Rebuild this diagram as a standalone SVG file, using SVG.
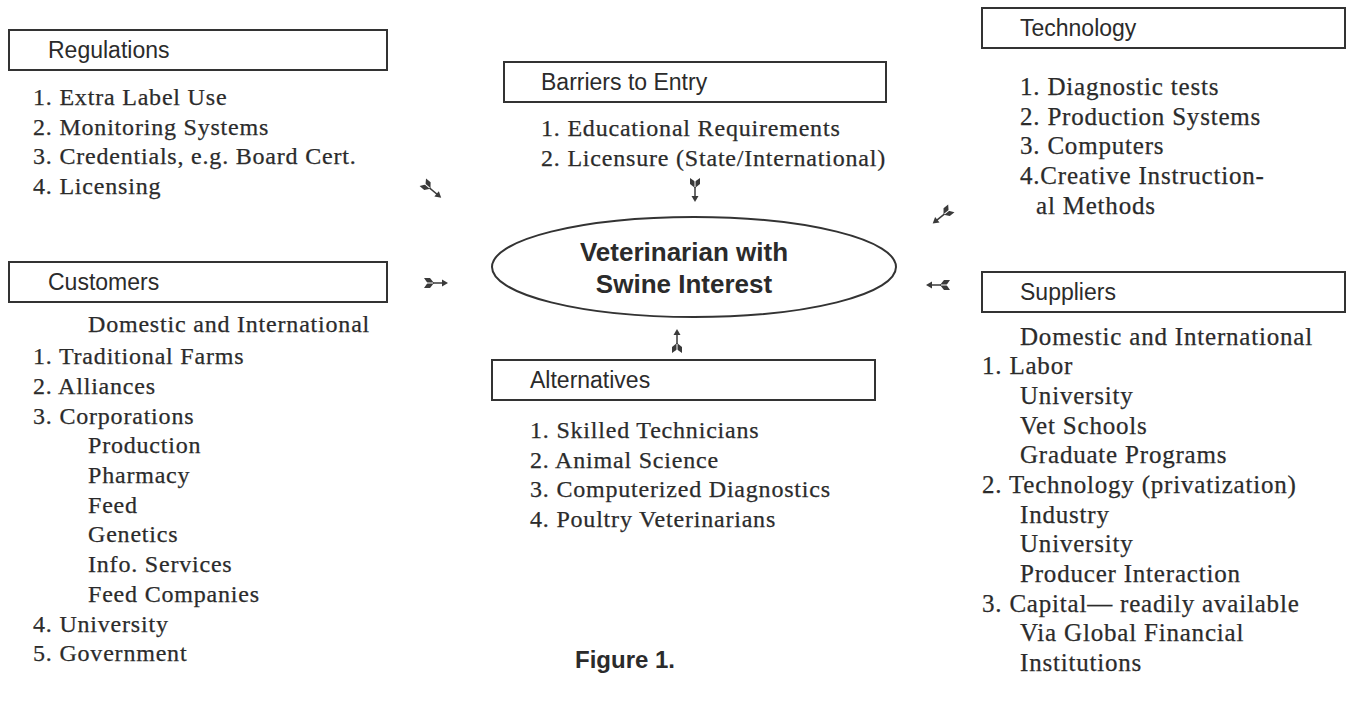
<svg xmlns="http://www.w3.org/2000/svg" width="1364" height="716" viewBox="0 0 1364 716">
<style>
.box{fill:none;stroke:#333;stroke-width:2}
.lbl{font-family:"Liberation Sans",Arial,sans-serif;font-size:23px;fill:#2b2b2b}
.itm{font-family:"Liberation Serif","Times New Roman",serif;font-size:24px;fill:#2b2b2b;letter-spacing:0.8px;stroke:#2b2b2b;stroke-width:0.25}
.rt{font-size:25px}
.ctr{font-family:"Liberation Sans",Arial,sans-serif;font-size:26px;font-weight:bold;fill:#2b2b2b;text-anchor:middle}
.fig{font-family:"Liberation Sans",Arial,sans-serif;font-size:24px;font-weight:bold;fill:#2b2b2b}
</style>
<defs>
<g id="arw">
<path d="M-12,-5 L-6,-5 L-2,0 L-6,5 L-12,5 L-8.5,0 Z" fill="#3a3a3a"/>
<line x1="-11" y1="0" x2="-3" y2="0" stroke="#fff" stroke-width="1"/>
<line x1="-3" y1="0" x2="7" y2="0" stroke="#3a3a3a" stroke-width="1.5"/>
<path d="M12,0 L6,-3.5 L6,3.5 Z" fill="#3a3a3a"/>
</g>
</defs>
<rect width="1364" height="716" fill="#fff"/>

<g id="regulations">
<rect class="box" x="9" y="30" width="378" height="40"/>
<text class="lbl" x="48" y="58">Regulations</text>
<text class="itm" x="33" y="105">1. Extra Label Use</text>
<text class="itm" x="33" y="135">2. Monitoring Systems</text>
<text class="itm" x="33" y="164">3. Credentials, e.g. Board Cert.</text>
<text class="itm" x="33" y="194">4. Licensing</text>
</g>

<g id="customers">
<rect class="box" x="9" y="262" width="378" height="40"/>
<text class="lbl" x="48" y="290">Customers</text>
<text class="itm" x="88" y="332">Domestic and International</text>
<text class="itm" x="33" y="364">1. Traditional Farms</text>
<text class="itm" x="33" y="394">2. Alliances</text>
<text class="itm" x="33" y="424">3. Corporations</text>
<text class="itm" x="88" y="453">Production</text>
<text class="itm" x="88" y="483">Pharmacy</text>
<text class="itm" x="88" y="513">Feed</text>
<text class="itm" x="88" y="542">Genetics</text>
<text class="itm" x="88" y="572">Info. Services</text>
<text class="itm" x="88" y="602">Feed Companies</text>
<text class="itm" x="33" y="632">4. University</text>
<text class="itm" x="33" y="661">5. Government</text>
</g>

<g id="barriers">
<rect class="box" x="504" y="62" width="382" height="40"/>
<text class="lbl" x="541" y="90">Barriers to Entry</text>
<text class="itm" x="541" y="136">1. Educational Requirements</text>
<text class="itm" x="541" y="166">2. Licensure (State/International)</text>
</g>

<g id="center">
<ellipse cx="694" cy="267" rx="202" ry="50" fill="none" stroke="#333" stroke-width="2"/>
<text class="ctr" x="684" y="261">Veterinarian with</text>
<text class="ctr" x="684" y="293">Swine Interest</text>
</g>

<g id="alternatives">
<rect class="box" x="492" y="360" width="383" height="40"/>
<text class="lbl" x="530" y="388">Alternatives</text>
<text class="itm" x="530" y="438">1. Skilled Technicians</text>
<text class="itm" x="530" y="468">2. Animal Science</text>
<text class="itm" x="530" y="497">3. Computerized Diagnostics</text>
<text class="itm" x="530" y="527">4. Poultry Veterinarians</text>
</g>

<g id="technology">
<rect class="box" x="982" y="8" width="363" height="40"/>
<text class="lbl" x="1020" y="36">Technology</text>
<text class="itm rt" x="1020" y="95">1. Diagnostic tests</text>
<text class="itm rt" x="1020" y="125">2. Production Systems</text>
<text class="itm rt" x="1020" y="154">3. Computers</text>
<text class="itm rt" x="1020" y="184">4.Creative Instruction-</text>
<text class="itm rt" x="1036" y="214">al Methods</text>
</g>

<g id="suppliers">
<rect class="box" x="982" y="272" width="363" height="40"/>
<text class="lbl" x="1020" y="300">Suppliers</text>
<text class="itm rt" x="1020" y="345">Domestic and International</text>
<text class="itm rt" x="982" y="374">1. Labor</text>
<text class="itm rt" x="1020" y="404">University</text>
<text class="itm rt" x="1020" y="434">Vet Schools</text>
<text class="itm rt" x="1020" y="463">Graduate Programs</text>
<text class="itm rt" x="982" y="493">2. Technology (privatization)</text>
<text class="itm rt" x="1020" y="523">Industry</text>
<text class="itm rt" x="1020" y="552">University</text>
<text class="itm rt" x="1020" y="582">Producer Interaction</text>
<text class="itm rt" x="982" y="612">3. Capital— readily available</text>
<text class="itm rt" x="1020" y="641">Via Global Financial</text>
<text class="itm rt" x="1020" y="671">Institutions</text>
</g>

<g id="caption">
<text class="fig" x="575" y="668">Figure 1.</text>
</g>

<g id="connectors">
<use href="#arw" transform="translate(432,190) rotate(40)"/>
<use href="#arw" transform="translate(436,283)"/>
<use href="#arw" transform="translate(942,216) rotate(141)"/>
<use href="#arw" transform="translate(938,285) rotate(180)"/>
<use href="#arw" transform="translate(695,190) rotate(90)"/>
<use href="#arw" transform="translate(677,341) rotate(-90)"/>
</g>
</svg>
